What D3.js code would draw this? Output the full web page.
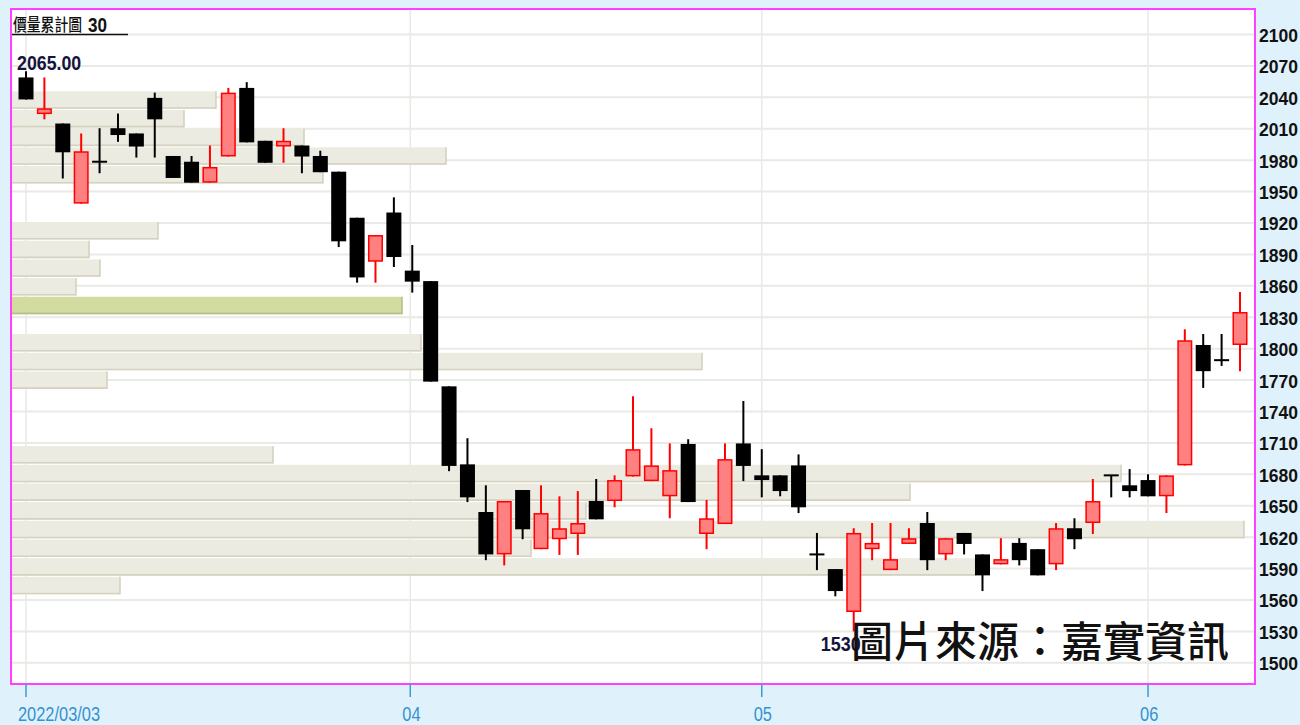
<!DOCTYPE html>
<html><head><meta charset="utf-8">
<script src="https://cdn.jsdelivr.net/npm/d3@7"></script>
<style>body{margin:0;background:#dff1fb;overflow:hidden}</style>
</head><body><svg id="c" width="1300" height="725"></svg>
<script>
// ---- data ----
const dates = [
 "2022/03/03","2022/03/04","2022/03/07","2022/03/08","2022/03/09","2022/03/10","2022/03/11",
 "2022/03/14","2022/03/15","2022/03/16","2022/03/17","2022/03/18","2022/03/21","2022/03/22",
 "2022/03/23","2022/03/24","2022/03/25","2022/03/28","2022/03/29","2022/03/30","2022/03/31",
 "2022/04/01","2022/04/06","2022/04/07","2022/04/08","2022/04/11","2022/04/12","2022/04/13",
 "2022/04/14","2022/04/15","2022/04/18","2022/04/19","2022/04/20","2022/04/21","2022/04/22",
 "2022/04/25","2022/04/26","2022/04/27","2022/04/28","2022/04/29",
 "2022/05/03","2022/05/04","2022/05/05","2022/05/06","2022/05/09","2022/05/10","2022/05/11",
 "2022/05/12","2022/05/13","2022/05/16","2022/05/17","2022/05/18","2022/05/19","2022/05/20",
 "2022/05/23","2022/05/24","2022/05/25","2022/05/26","2022/05/27","2022/05/30","2022/05/31",
 "2022/06/01","2022/06/02","2022/06/06","2022/06/07","2022/06/08","2022/06/09"];
const open  = [2059,2024,2015,1938.5,1978.5,2010.5,2005.5,2039.5,1984,1978.5,1958.5,1983.5,2049,1998.5,1993,1994,1984,1969,1925,1883,1930,
 1874.5,1864.5,1764,1689.5,1644,1603.5,1665,1608.5,1618,1623,1654.5,1654.5,1678,1673.5,1659,1709,1623,1632.5,1709.5,
 1679,1679,1688.5,1603.5,1589.5,1548.5,1608.5,1588.5,1613.5,1633.5,1603.5,1624,1603.5,1594,1614.5,1608.5,1594,1628.5,1633.5,1679,1669.5,
 1674.5,1659,1688.5,1803.5,1789,1803.5];
const high  = [2065,2059,2015,2005.5,2010.5,2024.5,2005.5,2044.5,1984,1984,1994,2049,2054.5,1998.5,2010.5,1994,1989,1969,1925,1908.5,1944.5,
 1899,1864.5,1764,1714.5,1669.5,1654.5,1665,1669.5,1659,1664,1675.5,1679,1754.5,1724,1709.5,1713.5,1655.5,1709.5,1750,
 1704,1679,1699,1624,1589.5,1628.5,1633.5,1633.5,1628.5,1644,1619,1624,1603.5,1619,1619,1608.5,1633.5,1638,1675.5,1679,1685,
 1680,1679,1818.5,1814,1814,1854];
const low   = [2038,2019,1962.5,1938.5,1967.5,1997.5,1982.5,1982.5,1963,1958.5,1958.5,1983.5,1997,1977.5,1977.5,1967.5,1968.5,1897,1863,1863,1878,
 1853.5,1768.5,1683,1653.5,1598,1593,1618,1608.5,1603,1603,1637,1648.5,1678,1673.5,1638,1653.5,1608.5,1632.5,1673.5,
 1658,1659,1643,1588.5,1563.5,1530,1598,1588.5,1613.5,1588.5,1598,1603.5,1568.5,1594,1593,1583.5,1588.5,1608.5,1623,1658,1658,
 1659,1643,1688.5,1762.5,1783.5,1778.5];
const close = [2038,2029.5,1987.5,1988.5,1978.5,2004,1993,2019,1963,1958.5,1973.5,2044.5,1997,1977.5,1998.5,1983.5,1968.5,1902.5,1868,1908.5,1887.5,
 1864,1768.5,1688,1658,1603.5,1654.5,1627.5,1643,1628.5,1633.5,1637,1674.5,1704,1688.5,1684,1653.5,1638,1694.5,1688,
 1674.5,1664,1648.5,1603.5,1568.5,1624,1614.5,1599,1619,1598,1619,1613.5,1583.5,1599,1598,1583.5,1628.5,1618,1654.5,1679,1664,
 1659,1679,1808,1778.5,1789,1835];

const priceTicks = d3.range(1500, 2101, 30);
const monthTickDates  = ["2022/03/03","2022/04/01","2022/05/03","2022/06/01"];
const monthTickLabels = ["2022/03/03","04","05","06"];

// volume-at-price profile, 30 bins from the period low to the period high (bottom bin first)
const profileBins = 30;
const profileLow = 1530, profileHigh = 2065;
const profileVolume = [0,0,2160,19280,10380,24640,11480,17960,22180,5220,0,0,0,1900,13800,8180,0,7800,1280,1760,1540,2920,0,0,6220,8680,5840,3440,4080,0];
const profileHighlightBin = 17;

const titleText = "價量累計圖";
const titleNum = "30";
const watermark = "圖片來源：嘉實資訊";

// ---- layout ----
const W = 1300, H = 725;
const plot = {l: 11, t: 9, r: 1255, b: 684};
const svg = d3.select("#c");
const sans = "'Liberation Sans',Arial,sans-serif";
// width of a string in a narrow face (digits ~0.456em, punctuation ~0.228em)
const narrowLen = (s, fs) => [...s].reduce((a, ch) => a + (/[0-9]/.test(ch) ? 0.456 : 0.228), 0) * fs;

svg.append("rect").attr("width", W).attr("height", H).attr("fill", "#dff1fb");
svg.append("rect").attr("x", plot.l).attr("y", plot.t).attr("width", plot.r - plot.l).attr("height", plot.b - plot.t).attr("fill", "#fff");

const y = d3.scaleLinear().domain([1500, 2100]).range([662.8, 34.5]);
const x = d3.scalePoint().domain(dates).range([26, 1240]);

// grid
const grid = svg.append("g");
grid.selectAll("line.h").data(priceTicks).join("line")
  .attr("x1", plot.l).attr("x2", plot.r).attr("y1", d => y(d)).attr("y2", d => y(d))
  .attr("stroke", "#e9e9e5").attr("stroke-width", 2);
grid.selectAll("line.v").data(monthTickDates).join("line")
  .attr("x1", d => x(d) - (d === "2022/04/01" ? 2 : 0)).attr("x2", d => x(d) - (d === "2022/04/01" ? 2 : 0))
  .attr("y1", plot.t).attr("y2", plot.b)
  .attr("stroke", "#e9e9e5").attr("stroke-width", 1.5);

// volume profile
const binH = (profileHigh - profileLow) / profileBins;
const vx = d3.scaleLinear().domain([0, d3.max(profileVolume)]).range([0, 1232]);
const prof = svg.append("g");
profileVolume.forEach((v, i) => {
  if (!v) return;
  const lo = profileLow + i * binH, hi = lo + binH;
  const y0 = y(hi) + 1.5, y1 = y(lo) + 0.3;
  const w = vx(v);
  const hl = i === profileHighlightBin;
  prof.append("rect").attr("x", plot.l + 1).attr("y", y0).attr("width", w).attr("height", y1 - y0)
    .attr("fill", hl ? "#d3dca0" : "#ecebe1");
  prof.append("line").attr("x1", plot.l + 1).attr("x2", plot.l + 1 + w).attr("y1", y1 - 0.8).attr("y2", y1 - 0.8)
    .attr("stroke", hl ? "#b6bf86" : "#d6d1bf").attr("stroke-width", 1.6);
  prof.append("line").attr("x1", plot.l + 1 + w).attr("x2", plot.l + 1 + w).attr("y1", y0).attr("y2", y1)
    .attr("stroke", hl ? "#b6bf86" : "#d6d1bf").attr("stroke-width", 1.6);
});

// candles
const bodyW = 15;
const cg = svg.append("g");
dates.forEach((d, i) => {
  const o = open[i], c = close[i], hgh = high[i], lw = low[i];
  const up = c > o;
  const cx = x(d);
  const col = up ? "#ff0000" : "#000";
  cg.append("line").attr("x1", cx).attr("x2", cx).attr("y1", y(hgh)).attr("y2", y(lw))
    .attr("stroke", col).attr("stroke-width", 2);
  const top = y(Math.max(o, c)), bot = y(Math.min(o, c));
  let hh = bot - top;
  if (hh < 2) {
    cg.append("rect").attr("x", cx - bodyW / 2).attr("y", top - 1).attr("width", bodyW).attr("height", 2).attr("fill", col);
  } else if (up) {
    cg.append("rect").attr("x", cx - bodyW / 2 + 0.75).attr("y", top + 0.75).attr("width", bodyW - 1.5).attr("height", hh - 1.5)
      .attr("fill", "#ff8080").attr("stroke", "#ff0000").attr("stroke-width", 1.5);
  } else {
    cg.append("rect").attr("x", cx - bodyW / 2).attr("y", top).attr("width", bodyW).attr("height", hh).attr("fill", "#000");
  }
});

// high / low labels
const hiIdx = d3.maxIndex(high), loIdx = d3.minIndex(low);
const hiTxt = high[hiIdx].toFixed(2), loTxt = String(low[loIdx]);
svg.append("text").attr("x", x(dates[hiIdx]) - 9).attr("y", y(high[hiIdx]) - 1.5)
  .attr("font-family", sans).attr("font-weight", "bold").attr("font-size", 21).attr("fill", "#14143c")
  .attr("textLength", narrowLen(hiTxt, 21) + 2).attr("lengthAdjust", "spacingAndGlyphs")
  .text(hiTxt);
svg.append("text").attr("x", x(dates[loIdx]) - 33).attr("y", y(low[loIdx]) + 20)
  .attr("font-family", sans).attr("font-weight", "bold").attr("font-size", 20).attr("fill", "#14143c")
  .attr("textLength", 40).attr("lengthAdjust", "spacingAndGlyphs")
  .text(loTxt);

// frame
svg.append("rect").attr("x", plot.l).attr("y", plot.t).attr("width", plot.r - plot.l).attr("height", plot.b - plot.t)
  .attr("fill", "none").attr("stroke", "#ff40ff").attr("stroke-width", 2);

// y axis labels
svg.append("g").selectAll("text").data(priceTicks).join("text")
  .attr("x", 1259).attr("y", d => y(d) + 7.5)
  .attr("font-family", sans).attr("font-weight", "bold").attr("font-size", 19).attr("fill", "#111")
  .attr("textLength", 39).attr("lengthAdjust", "spacingAndGlyphs")
  .text(d => d);

// x axis ticks
const xa = svg.append("g");
monthTickDates.forEach((d, i) => {
  const tx = x(d) - (d === "2022/04/01" ? 2 : 0);
  xa.append("line").attr("x1", tx).attr("x2", tx).attr("y1", plot.b).attr("y2", plot.b + 13)
    .attr("stroke", "#3a9ad9").attr("stroke-width", 1.5);
  xa.append("text").attr("x", tx - 8).attr("y", 720.5)
    .attr("font-family", sans).attr("font-size", 19.5).attr("fill", "#3592d2")
    .attr("textLength", narrowLen(monthTickLabels[i], 20)).attr("lengthAdjust", "spacingAndGlyphs")
    .text(monthTickLabels[i]);
});

// title
svg.append("text").attr("x", 13).attr("y", 31).attr("font-family", "'Noto Sans CJK TC',sans-serif")
  .attr("font-size", 17.5).attr("font-weight", 500).attr("textLength", 69).attr("lengthAdjust", "spacingAndGlyphs").attr("fill", "#111")
  .text(titleText);
svg.append("text").attr("x", 88).attr("y", 32).attr("font-family", sans).attr("font-weight", "bold")
  .attr("font-size", 20).attr("fill", "#111")
  .attr("textLength", 19).attr("lengthAdjust", "spacingAndGlyphs").text(titleNum);
svg.append("line").attr("x1", 12).attr("x2", 128).attr("y1", 34.5).attr("y2", 34.5).attr("stroke", "#111").attr("stroke-width", 1.5);

// watermark
svg.append("text").attr("x", 851).attr("y", 657).attr("font-family", "'Noto Sans CJK TC',sans-serif")
  .attr("font-size", 42).attr("font-weight", 500).attr("fill", "#111").text(watermark);
</script></body></html>
